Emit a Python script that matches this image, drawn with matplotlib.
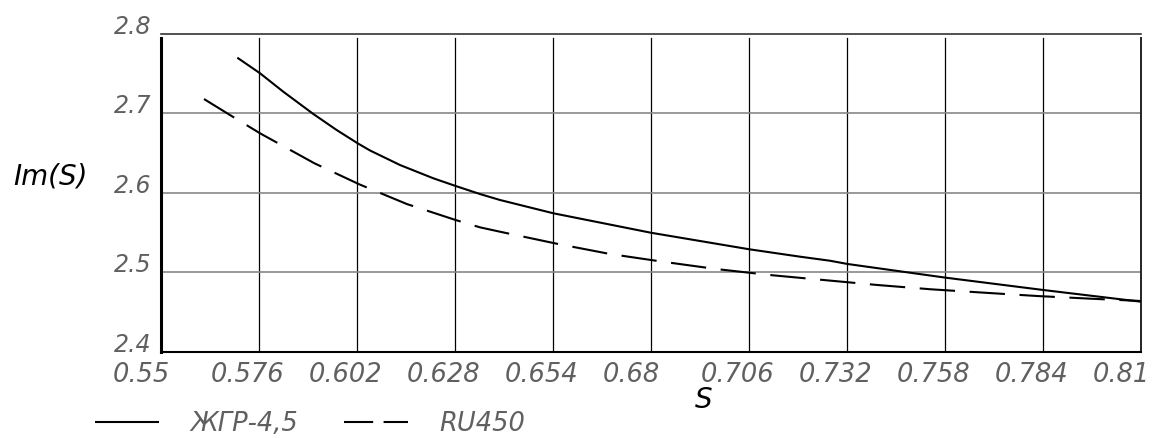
import matplotlib
matplotlib.use("Agg")
import matplotlib.pyplot as plt
import matplotlib.transforms as mtransforms
from matplotlib.lines import Line2D

# ---- data ----
s_zhgr = [0.57025, 0.57627, 0.58245, 0.59041, 0.59661, 0.60218, 0.60545, 0.61341,
          0.62225, 0.62818, 0.63463, 0.63994, 0.65408, 0.68, 0.70608, 0.71953,
          0.72749, 0.73216, 0.75816, 0.78406, 0.8099]
im_zhgr = [2.7702, 2.7506, 2.7274, 2.6994, 2.6792, 2.6625, 2.6535, 2.6352,
           2.6185, 2.6088, 2.5987, 2.5912, 2.5745, 2.5500, 2.5292, 2.5199,
           2.5148, 2.5107, 2.4935, 2.4780, 2.4633]

s_ru = [0.56141, 0.5683, 0.57627, 0.59069, 0.60262, 0.61518, 0.62818, 0.63463,
        0.63994, 0.65541, 0.6691, 0.68307, 0.69724, 0.71137, 0.7257, 0.74003,
        0.75418, 0.76841, 0.78256, 0.79689, 0.8099]
im_ru = [2.7182, 2.6981, 2.6751, 2.6374, 2.6109, 2.5862, 2.5660, 2.5568,
         2.5513, 2.5358, 2.5233, 2.5136, 2.5044, 2.4969, 2.4906, 2.4843,
         2.4789, 2.4746, 2.4704, 2.4670, 2.4642]

x_ticks = [0.55, 0.576, 0.602, 0.628, 0.654, 0.68, 0.706, 0.732, 0.758, 0.784, 0.81]
x_tick_labels = ["0.55", "0.576", "0.602", "0.628", "0.654", "0.68", "0.706",
                 "0.732", "0.758", "0.784", "0.81"]
y_ticks = [2.4, 2.5, 2.6, 2.7, 2.8]
y_tick_labels = ["2.4", "2.5", "2.6", "2.7", "2.8"]
series_labels = ["ЖГР-4,5", "RU450"]
x_label = "S"
y_label = "Im(S)"

# ---- styling ----
light_font = dict(family=["DejaVu Sans"], style="italic")
text_color = "#606060"

fig = plt.figure(figsize=(11.53, 4.38), dpi=100)
ax = fig.add_axes([161 / 1153, 86 / 438, 980 / 1153, 318 / 438])

ax.set_xlim(0.55, 0.81)
ax.set_ylim(2.4, 2.8)

top_gap = 0.9875
for xv in x_ticks[1:-1]:
    ax.axvline(xv, ymin=0, ymax=top_gap, color="black", lw=0.9, zorder=1)
for yv in y_ticks[1:-1]:
    ax.axhline(yv, color="#888888", lw=1.2, zorder=1)

ax.plot(s_zhgr, im_zhgr, color="black", lw=1.5, solid_capstyle="butt", zorder=3)
ax.plot(s_ru, im_ru, color="black", lw=1.5, dashes=(17, 7), dash_capstyle="butt",
        zorder=3)

for side in ["left", "right", "top", "bottom"]:
    ax.spines[side].set_visible(True)
ax.spines["left"].set_linewidth(2.2)
ax.spines["left"].set_color("black")
ax.spines["left"].set_bounds(2.4, 2.4 + 0.4 * top_gap)
ax.spines["right"].set_linewidth(1.4)
ax.spines["right"].set_color("#222222")
ax.spines["right"].set_bounds(2.4, 2.4 + 0.4 * top_gap)
ax.spines["top"].set_linewidth(1.2)
ax.spines["top"].set_color("#333333")
ax.spines["bottom"].set_linewidth(1.5)
ax.spines["bottom"].set_color("black")

ax.set_xticks(x_ticks)
ax.set_xticklabels(x_tick_labels, fontsize=18.5, color=text_color, ha="left", **light_font)
ax.set_yticks(y_ticks)
ax.set_yticklabels(y_tick_labels, fontsize=17, color=text_color, va="baseline", **light_font)
ax.tick_params(axis="both", length=0)
ax.tick_params(axis="x", pad=7)
ax.tick_params(axis="y", pad=7)

offset = mtransforms.ScaledTranslation(-0.48, 0, fig.dpi_scale_trans)
for lbl in ax.get_xticklabels():
    lbl.set_transform(lbl.get_transform() + offset)

fig.text(704 / 1153, 1 - 400 / 438, x_label, fontsize=20, style="italic",
         family=["DejaVu Sans"], ha="center", va="center", color="black")
fig.text(13 / 1153, 1 - 176 / 438, y_label, fontsize=20, style="italic",
         family=["DejaVu Sans"], ha="left", va="center", color="black")

handles = [Line2D([], [], color="black", lw=1.5, solid_capstyle="butt"),
           Line2D([], [], color="black", lw=1.5, dashes=(14, 5), dash_capstyle="butt")]
leg = fig.legend(handles, series_labels, loc="center left",
                 bbox_to_anchor=(95 / 1153, 1 - 424 / 438),
                 bbox_transform=fig.transFigure, ncol=2, frameon=False,
                 borderpad=0, borderaxespad=0, handlelength=2.5, handletextpad=1.2,
                 columnspacing=1.8, prop=dict(size=18.5, **light_font))
for t in leg.get_texts():
    t.set_color(text_color)

fig.savefig("out.png", dpi=100)
